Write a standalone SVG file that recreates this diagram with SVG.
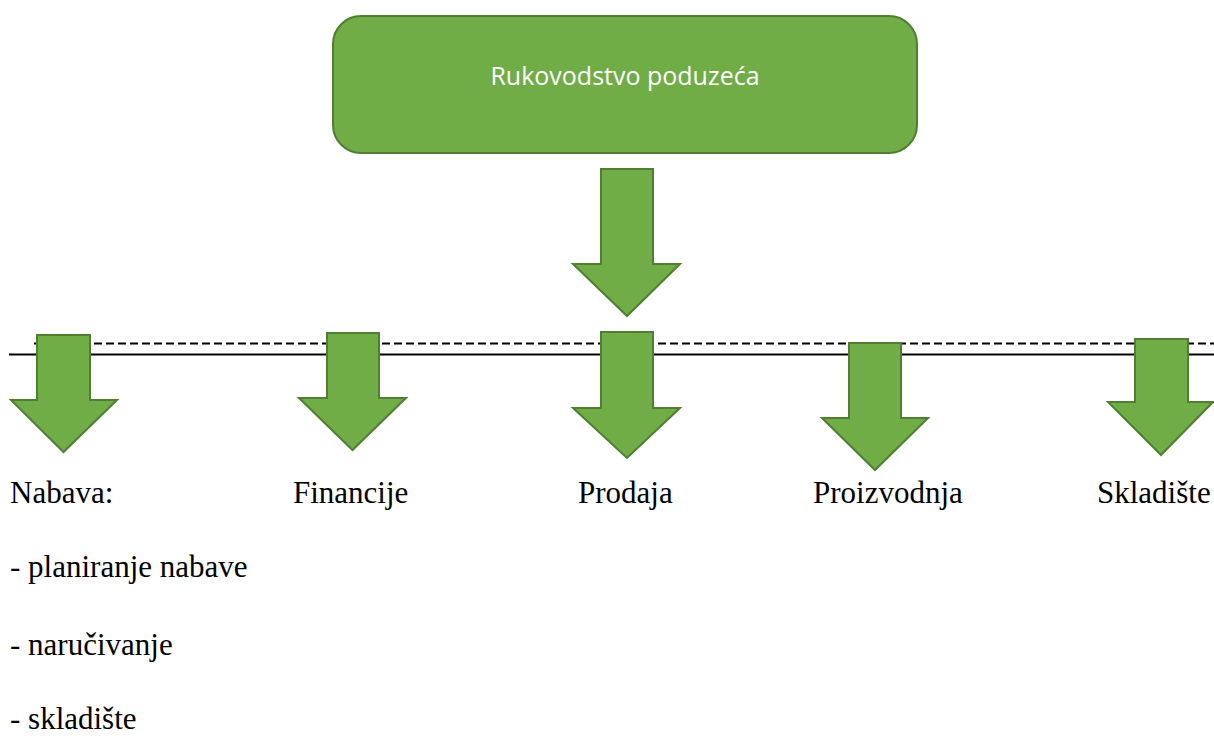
<svg xmlns="http://www.w3.org/2000/svg" width="1214" height="736" viewBox="0 0 1214 736">
<style>
.arrow{fill:#70AD47;stroke:#507E32;stroke-width:2;stroke-linejoin:miter}
.box{fill:#70AD47;stroke:#507E32;stroke-width:2}
.boxtxt{font-family:"Open Sans","Liberation Sans",sans-serif;font-size:25px;fill:#FFFFFF}
.lbl{font-family:"Liberation Serif","Times New Roman",serif;font-size:31px;fill:#000000}
.solid{stroke:#000;stroke-width:2;fill:none}
.dash{stroke:#000;stroke-width:2;fill:none;stroke-dasharray:8 4}
</style>
<rect width="1214" height="736" fill="#FFFFFF"/>
<g id="connectors">
<line class="dash" x1="34" y1="343.5" x2="1214" y2="343.5"/>
<line class="solid" x1="9" y1="354.5" x2="1214" y2="354.5"/>
<polygon id="arrow-top" class="arrow" points="601,169 653,169 653,264 680,264 627,316 573,264 601,264"/>
<polygon id="arrow-nabava" class="arrow" points="37,335 90,335 90,400 117,400 63.5,452 11,400 37,400"/>
<polygon id="arrow-financije" class="arrow" points="327,333 379,333 379,398 406,398 352.5,450 299,398 327,398"/>
<polygon id="arrow-prodaja" class="arrow" points="601,332 653,332 653,408 680,408 627,458 573,408 601,408"/>
<polygon id="arrow-proizvodnja" class="arrow" points="849,343 901,343 901,418 928,418 875,470 822,418 849,418"/>
<polygon id="arrow-skladiste" class="arrow" points="1135,339 1188,339 1188,402 1213,402 1161,455 1108,402 1135,402"/>
</g>
<g id="node-rukovodstvo">
<rect class="box" x="333" y="16" width="584" height="137" rx="28" ry="28"/>
<text class="boxtxt" x="625" y="85" text-anchor="middle">Rukovodstvo poduzeća</text>
</g>
<g id="node-nabava">
<text class="lbl" x="10" y="503">Nabava:</text>
<text class="lbl" x="10" y="577">- planiranje nabave</text>
<text class="lbl" x="10" y="655">- naručivanje</text>
<text class="lbl" x="10" y="729">- skladište</text>
</g>
<g id="node-financije"><text class="lbl" x="293" y="503">Financije</text></g>
<g id="node-prodaja"><text class="lbl" x="578" y="503">Prodaja</text></g>
<g id="node-proizvodnja"><text class="lbl" x="813" y="503">Proizvodnja</text></g>
<g id="node-skladiste"><text class="lbl" x="1097" y="503">Skladište</text></g>
</svg>
